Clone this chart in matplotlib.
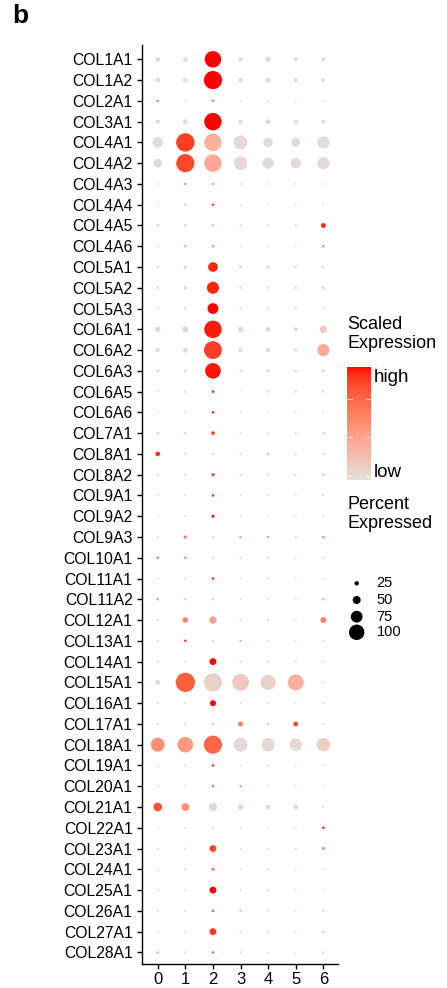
import numpy as np
import matplotlib
matplotlib.use("Agg")
import matplotlib.pyplot as plt
from matplotlib.colors import ListedColormap

plt.rcParams['font.family'] = ['Liberation Sans', 'DejaVu Sans']

genes = ["COL1A1", "COL1A2", "COL2A1", "COL3A1", "COL4A1", "COL4A2", "COL4A3", "COL4A4",
         "COL4A5", "COL4A6", "COL5A1", "COL5A2", "COL5A3", "COL6A1", "COL6A2", "COL6A3",
         "COL6A5", "COL6A6", "COL7A1", "COL8A1", "COL8A2", "COL9A1", "COL9A2", "COL9A3",
         "COL10A1", "COL11A1", "COL11A2", "COL12A1", "COL13A1", "COL14A1", "COL15A1",
         "COL16A1", "COL17A1", "COL18A1", "COL19A1", "COL20A1", "COL21A1", "COL22A1",
         "COL23A1", "COL24A1", "COL25A1", "COL26A1", "COL27A1", "COL28A1"]
clusters = ["0", "1", "2", "3", "4", "5", "6"]

# percent of cells expressing (per gene, clusters 0..6)
pct_expressed = [
    [21, 21, 85, 18, 23, 16, 16],
    [21, 21, 94, 18, 23, 16, 16],
    [8, 5, 8, 5, 5, 5, 5],
    [18, 21, 90, 18, 23, 18, 18],
    [52, 95, 90, 71, 47, 43, 61],
    [43, 94, 90, 69, 56, 52, 61],
    [5, 7, 7, 5, 5, 5, 5],
    [5, 5, 9, 5, 5, 5, 5],
    [10, 10, 13, 8, 8, 8, 22],
    [5, 7, 8, 5, 5, 5, 8],
    [10, 16, 48, 13, 13, 10, 10],
    [10, 16, 61, 10, 10, 10, 13],
    [8, 10, 54, 8, 8, 8, 8],
    [26, 29, 90, 26, 21, 18, 36],
    [18, 23, 92, 18, 18, 13, 61],
    [13, 13, 80, 10, 13, 10, 13],
    [5, 8, 10, 5, 8, 8, 8],
    [5, 7, 10, 5, 5, 5, 5],
    [8, 8, 16, 7, 7, 7, 8],
    [21, 8, 8, 7, 10, 7, 8],
    [7, 7, 13, 7, 8, 7, 8],
    [5, 7, 10, 5, 7, 5, 7],
    [5, 5, 13, 5, 5, 5, 5],
    [7, 13, 8, 10, 10, 7, 10],
    [10, 10, 8, 7, 7, 5, 7],
    [5, 5, 10, 5, 5, 5, 5],
    [8, 8, 8, 5, 5, 5, 8],
    [8, 26, 35, 7, 7, 5, 28],
    [7, 10, 8, 8, 5, 5, 5],
    [7, 7, 33, 7, 7, 7, 7],
    [23, 100, 94, 87, 78, 83, 7],
    [7, 7, 28, 5, 5, 5, 5],
    [8, 8, 13, 24, 10, 22, 7],
    [71, 80, 94, 71, 68, 64, 69],
    [5, 5, 9, 5, 5, 5, 5],
    [5, 5, 8, 7, 5, 5, 5],
    [43, 38, 40, 26, 21, 23, 7],
    [5, 5, 7, 5, 5, 5, 10],
    [7, 7, 33, 7, 7, 7, 13],
    [5, 7, 10, 5, 7, 5, 5],
    [7, 7, 33, 5, 7, 5, 5],
    [7, 7, 10, 8, 7, 5, 8],
    [7, 7, 33, 7, 7, 5, 8],
    [8, 7, 9, 7, 5, 5, 7],
]

# scaled expression (0 = low, 1 = high)
scaled_expression = [
    [.05, .05, 1.0, .05, .05, .05, .05],
    [.05, .05, 1.0, .05, .05, .05, .05],
    [.7, .1, .7, .1, .1, .1, .1],
    [.05, .05, 1.0, .05, .05, .05, .05],
    [.05, .88, .3, .05, .05, .05, .05],
    [.05, .85, .35, .05, .05, .05, .05],
    [.1, .7, .6, .1, .1, .1, .1],
    [.1, .4, .9, .1, .1, .1, .1],
    [.1, .1, .1, .1, .1, .1, .95],
    [.1, .5, .6, .1, .1, .1, .6],
    [.05, .05, .95, .05, .05, .05, .05],
    [.05, .05, .95, .05, .05, .05, .05],
    [.05, .05, 1.0, .05, .05, .05, .05],
    [.05, .05, .97, .05, .05, .05, .15],
    [.05, .05, .88, .05, .05, .05, .35],
    [.05, .05, .98, .05, .05, .05, .05],
    [.1, .1, .95, .1, .1, .1, .1],
    [.1, .1, .95, .1, .1, .1, .1],
    [.3, .1, .85, .1, .1, .1, .2],
    [.92, .1, .1, .1, .3, .1, .1],
    [.1, .1, .85, .1, .1, .1, .3],
    [.1, .1, .9, .1, .1, .1, .1],
    [.1, .1, .95, .1, .1, .1, .1],
    [.1, .6, .1, .35, .4, .1, .5],
    [.6, .5, .1, .1, .1, .1, .1],
    [.1, .1, .95, .1, .1, .1, .1],
    [.5, .3, .2, .1, .1, .1, .4],
    [.1, .55, .4, .1, .1, .1, .55],
    [.1, .85, .15, .35, .1, .1, .1],
    [.1, .1, 1.0, .1, .1, .1, .1],
    [.05, .75, .1, .15, .1, .3, .1],
    [.1, .1, 1.0, .1, .1, .1, .1],
    [.1, .1, .1, .55, .1, .85, .1],
    [.5, .45, .72, .05, .05, .05, .12],
    [.1, .1, .9, .1, .1, .1, .1],
    [.1, .1, .8, .6, .1, .1, .1],
    [.8, .5, .05, .05, .05, .05, .1],
    [.1, .1, .1, .1, .1, .1, .9],
    [.1, .1, .85, .1, .1, .1, .5],
    [.1, .1, .85, .1, .1, .1, .1],
    [.1, .1, 1.0, .1, .1, .1, .1],
    [.1, .1, .75, .25, .1, .1, .15],
    [.1, .1, .9, .1, .1, .1, .3],
    [.4, .1, .75, .1, .1, .1, .1],
]

size_breaks = [25, 50, 75, 100]
color_labels = ["low", "high"]

# ---------- Lab-interpolated gradient grey -> red ----------
def srgb_to_lab(rgb):
    rgb = np.asarray(rgb, float)
    lin = np.where(rgb <= 0.04045, rgb / 12.92, ((rgb + 0.055) / 1.055) ** 2.4)
    M = np.array([[0.4124564, 0.3575761, 0.1804375],
                  [0.2126729, 0.7151522, 0.0721750],
                  [0.0193339, 0.1191920, 0.9503041]])
    xyz = M @ lin
    white = np.array([0.95047, 1.0, 1.08883])
    t = xyz / white
    f = np.where(t > (6 / 29) ** 3, np.cbrt(t), t / (3 * (6 / 29) ** 2) + 4 / 29)
    return np.array([116 * f[1] - 16, 500 * (f[0] - f[1]), 200 * (f[1] - f[2])])

def lab_to_srgb(lab):
    L, a, b = lab
    fy = (L + 16) / 116
    fx = fy + a / 500
    fz = fy - b / 200
    f = np.array([fx, fy, fz])
    t = np.where(f > 6 / 29, f ** 3, 3 * (6 / 29) ** 2 * (f - 4 / 29))
    xyz = t * np.array([0.95047, 1.0, 1.08883])
    Minv = np.array([[3.2404542, -1.5371385, -0.4985314],
                     [-0.9692660, 1.8760108, 0.0415560],
                     [0.0556434, -0.2040259, 1.0572252]])
    lin = np.clip(Minv @ xyz, 0, 1)
    rgb = np.where(lin <= 0.0031308, 12.92 * lin, 1.055 * lin ** (1 / 2.4) - 0.055)
    return np.clip(rgb, 0, 1)

lo = srgb_to_lab([224 / 255, 224 / 255, 224 / 255])
hi = srgb_to_lab([1.0, 0.0, 0.0])
cols = [lab_to_srgb(lo + (hi - lo) * t) for t in np.linspace(0, 1, 256)]
cmap = ListedColormap(cols)

# ---------- figure ----------
W, H = 447, 988
fig = plt.figure(figsize=(W / 100, H / 100), dpi=100)

def px_axes(x0, y0, x1, y1):
    return fig.add_axes([x0 / W, 1 - y1 / H, (x1 - x0) / W, (y1 - y0) / H])

ax = px_axes(141.7, 45, 338, 964)

def size_of(p):
    d_px = 0.8 + np.asarray(p, float) / 100.0 * 18.5
    return (d_px * 0.72) ** 2

pct = np.array(pct_expressed, float)
sc = np.array(scaled_expression, float)
xx, yy = np.meshgrid(np.arange(len(clusters)), np.arange(len(genes)))
ax.scatter(xx.ravel(), yy.ravel(), s=size_of(pct.ravel()), c=sc.ravel(),
           cmap=cmap, vmin=0, vmax=1, linewidths=0)

ax.set_xlim(-0.58, 6.53)
ax.set_ylim(len(genes) - 1 + 0.56, -0.69)
ax.set_xticks(range(len(clusters)))
ax.set_xticklabels(clusters, fontsize=12)
ax.set_yticks(range(len(genes)))
ax.set_yticklabels(genes, fontsize=11.3)
for s in ['top', 'right']:
    ax.spines[s].set_visible(False)
for s in ['left', 'bottom']:
    ax.spines[s].set_linewidth(1.0)
ax.tick_params(axis='both', length=3.6, width=1.0, color='black', pad=3)
ax.tick_params(axis='x', pad=2.2)

# panel letter
fig.text(12 / W, 1 - 4 / H, "b", fontsize=19, fontweight='bold', ha='left', va='top')

# ---------- colour legend ----------
fig.text(347.3 / W, 1 - 316 / H, "Scaled\nExpression", fontsize=13, ha='left', va='top',
         linespacing=1.15)
cax = px_axes(347.3, 367.3, 371, 480)
grad = np.linspace(1, 0, 256).reshape(-1, 1)
cax.imshow(grad, aspect='auto', cmap=cmap, vmin=0, vmax=1, extent=[0, 1, 0, 1])
cax.set_xlim(0, 1)
cax.set_ylim(0, 1)
cax.axis('off')
for fr in [0.035, 0.378, 0.72]:
    cax.plot([0, 0.2], [fr, fr], color='white', lw=0.7, alpha=0.7)
    cax.plot([0.8, 1], [fr, fr], color='white', lw=0.7, alpha=0.7)
fig.text(373.5 / W, 1 - 378 / H, color_labels[1], fontsize=13.5, ha='left', va='center')
fig.text(373.5 / W, 1 - 472 / H, color_labels[0], fontsize=13.5, ha='left', va='center')

# ---------- size legend ----------
fig.text(347.3 / W, 1 - 496 / H, "Percent\nExpressed", fontsize=13, ha='left', va='top',
         linespacing=1.15)
lax = px_axes(340, 570, 440, 645)
lax.set_xlim(340, 440)
lax.set_ylim(645, 570)
lax.axis('off')
legend_y = [583.3, 600, 616.7, 632.3]
LEG_SCALE = 0.8
lax.scatter([356.7] * len(size_breaks), legend_y,
            s=size_of(size_breaks) * LEG_SCALE ** 2, color='black', linewidths=0)
for b, y in zip(size_breaks, legend_y):
    lax.text(376.5, y, str(b), fontsize=10.5, ha='left', va='center')

fig.savefig("out.png", dpi=100)
